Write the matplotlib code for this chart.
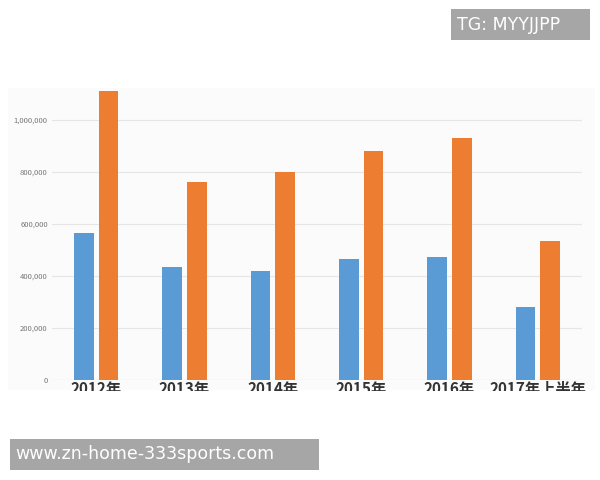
import matplotlib
matplotlib.use("Agg")
import matplotlib.pyplot as plt
from matplotlib.patches import Rectangle

plt.rcParams['font.family'] = ['Noto Sans CJK SC', 'DejaVu Sans']

categories = ["2012年", "2013年", "2014年", "2015年", "2016年", "2017年上半年"]
blue_vals = [565000, 435000, 419000, 465000, 473000, 281000]
orange_vals = [1111000, 762000, 800000, 881000, 931000, 535000]
yticks = [0, 200000, 400000, 600000, 800000, 1000000]
ytick_labels = ["0", "200,000", "400,000", "600,000", "800,000", "1,000,000"]

W, H = 600, 480
fig = plt.figure(figsize=(6, 4.8), dpi=100)
fig.patch.set_facecolor("white")
# faint chart panel
fig.patches.append(Rectangle((8/W, 1-390/H), 587/W, 302/H, transform=fig.transFigure,
                             facecolor="#fbfbfb", edgecolor="none", zorder=-5))
ax = fig.add_axes([52/W, 1-380/H, 530/W, 294/H])
ax.set_zorder(1)
ax.set_facecolor("none")
x = range(len(categories))
bw = 0.225
ax.bar([i - 0.14 for i in x], blue_vals, bw, color="#5b9bd5", zorder=3)
ax.bar([i + 0.14 for i in x], orange_vals, bw, color="#ed7d31", zorder=3)
ax.set_xlim(-0.5, 5.5)
ax.set_ylim(0, 1130000)
ax.set_yticks(yticks)
ax.set_yticklabels(ytick_labels, fontsize=5.5, color="#777777")
ax.set_xticks(list(x))
ax.set_xticklabels(categories, fontsize=11, color="#333333", fontweight="bold")
ax.tick_params(length=0, pad=3)
ax.tick_params(axis="x", pad=1)
ax.grid(axis="y", color="#e6e6e6", lw=0.8, zorder=0)
for s in ax.spines.values():
    s.set_visible(False)
ax.axhline(0, color="#d9d9d9", lw=0.8, zorder=2)

# white cover clipping the x labels
fig.patches.append(Rectangle((0, 0), 1, 1-391/H, transform=fig.transFigure,
                             facecolor="white", edgecolor="none", zorder=10))
# watermarks
fig.patches.append(Rectangle((451/W, 1-40/H), 139/W, 31/H, transform=fig.transFigure,
                             facecolor="#a6a6a6", edgecolor="none", zorder=11))
fig.text(457/W, 1-25/H, "TG: MYYJJPP", color="white", fontsize=12.5, va="center",
         family="DejaVu Sans", zorder=12)
fig.patches.append(Rectangle((10/W, 1-470/H), 309/W, 31/H, transform=fig.transFigure,
                             facecolor="#a6a6a6", edgecolor="none", zorder=11))
fig.text(15/W, 1-454/H, "www.zn-home-333sports.com", color="white", fontsize=12.5,
         va="center", family="DejaVu Sans", zorder=12)

fig.savefig("out.png", dpi=100)
